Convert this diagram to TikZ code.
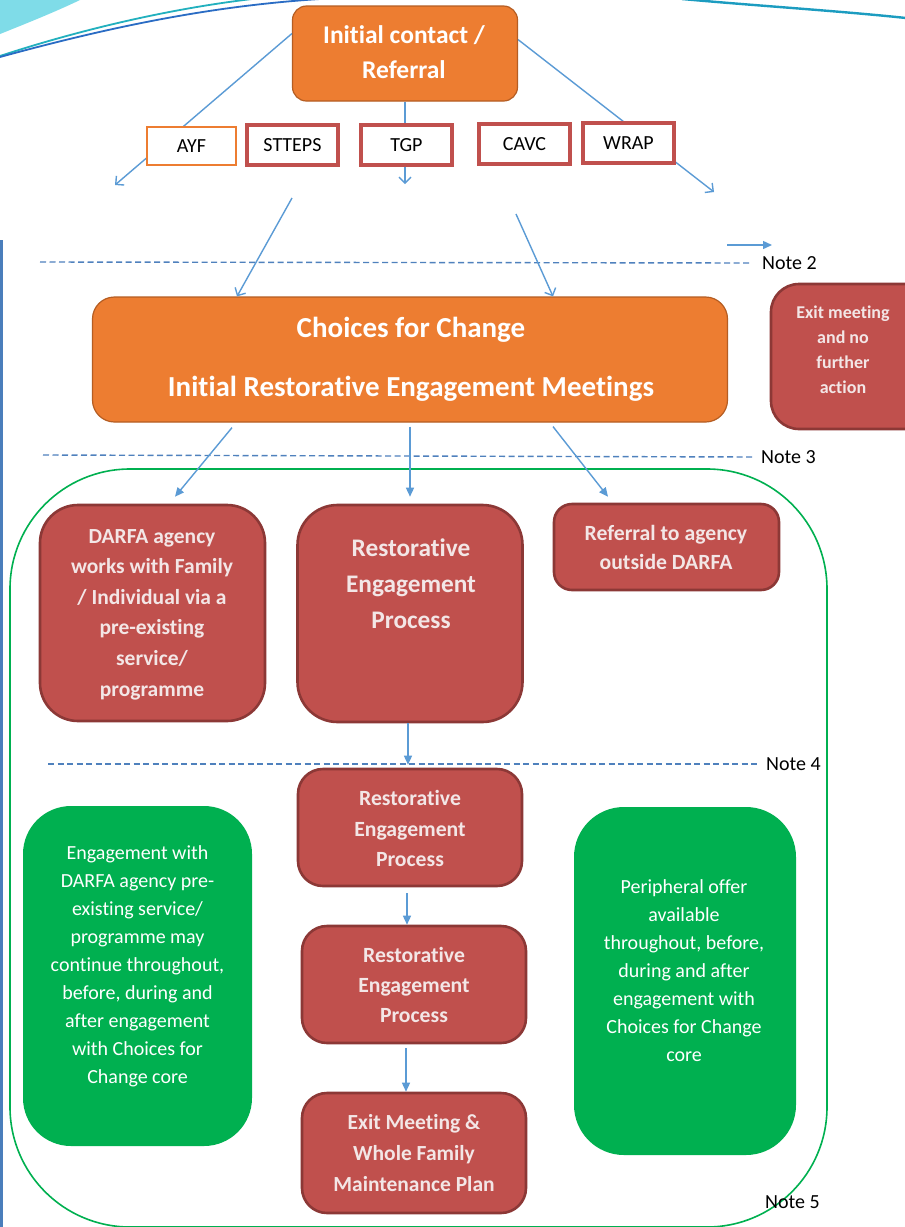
\documentclass[tikz,border=0pt]{standalone}
\usepackage{fontspec}
\setmainfont{Carlito}[Ligatures={NoCommon}]
\usetikzlibrary{arrows.meta,calc}
\definecolor{orfill}{HTML}{ED7D31}
\definecolor{ordraw}{HTML}{B55D22}
\definecolor{rdfill}{HTML}{C0504D}
\definecolor{rddraw}{HTML}{8C3836}
\definecolor{gnfill}{HTML}{00B050}
\definecolor{arblue}{HTML}{5B9BD5}
\definecolor{dashblue}{HTML}{4F81BD}
\definecolor{rdtext}{HTML}{F3E6E6}
\definecolor{swcyan}{HTML}{7FDCE8}
\definecolor{swteal}{HTML}{22B0BE}
\definecolor{swblue}{HTML}{2A6CC4}
\definecolor{swright}{HTML}{1C9CC0}
\definecolor{barblue}{HTML}{4A7EBB}
\tikzset{
  orbox/.style={draw=ordraw, fill=orfill, line width=1.2pt, inner sep=0pt},
  rdbox/.style={draw=rddraw, fill=rdfill, line width=2.6pt, inner sep=0pt},
  gnbox/.style={fill=gnfill, draw=none, inner sep=0pt},
  tagbox/.style={draw=rdfill, fill=white, line width=3.4pt, inner sep=0pt,
    minimum width=91pt, minimum height=40pt, font=\fontsize{20}{24}\selectfont},
  btxt/.style n args={2}{align=center, inner sep=0pt, font={\bfseries\fontsize{#1}{#2}\selectfont}},
  rtxt/.style n args={2}{align=center, inner sep=0pt, font={\fontsize{#1}{#2}\selectfont}},
  note/.style={anchor=west, inner sep=0pt, font=\fontsize{20}{24}\selectfont},
  topar/.style={draw=arblue, line width=1.4pt, -{Straight Barb[length=6pt,width=12pt]}},
  ar/.style={draw=arblue, line width=1.4pt, -{Triangle[length=9pt,width=8pt]}},
  plain/.style={draw=arblue, line width=1.4pt},
  dashline/.style={draw=dashblue, line width=1.4pt, dash pattern=on 6pt off 3.5pt}
}
\begin{document}
\begin{tikzpicture}[x=1pt,y=-1pt]
\useasboundingbox (0,0) rectangle (905,1227);
\fill[white] (0,0) rectangle (905,1227);
% decorative swooshes
\fill[swcyan] (0,0) -- (80,0) .. controls (55,12) and (25,24) .. (0,34) -- cycle;
\draw[swteal, line width=1.8pt] (0,56) .. controls (70,33) and (160,10) .. (252,-1);
\draw[swblue, line width=1.8pt] (0,57) .. controls (110,27) and (210,6) .. (320,-1);
\draw[swright, line width=2.4pt] (682,-1) .. controls (760,6) and (840,11) .. (906,18);
% left bar
\fill[barblue] (0,240) rectangle (3,1227);
% green container
\draw[gnfill, line width=1.6pt, rounded corners=120pt] (10,469) rectangle (827,1227);

% initial contact
\node[orbox, rounded corners=14pt, minimum width=225pt, minimum height=95pt] (ic) at (405,53.5) {};
\node[btxt={25.5}{35}, text=white] (ict) at (404,52.5) {Initial contact /\\Referral};
\coordinate (ayfend) at (115,185);
\coordinate (wrapend) at (714,192);
\draw[topar] (ic.170) -- (ayfend);
\draw[topar] (ic.7) -- (wrapend);

% small boxes
\node[tagbox, draw=orfill, line width=1.6pt, minimum width=89pt, minimum height=38pt] (ayf) at (191.5,146) {AYF};
\node[tagbox] (stteps) at (292.5,145) {STTEPS};
\node[tagbox] (tgp) at (406.5,145) {TGP};
\node[tagbox] (cavc) at (524.5,144) {CAVC};
\node[tagbox] (wrap) at (628.5,143) {WRAP};
\draw[plain] (ic.south) -- (ic.south |- tgp.north);
\coordinate (tgpend) at (405,184);
\draw[topar] (tgp.south -| tgpend) -- (tgpend);

% note 2
\coordinate (d2) at (40,262);
\node[note] (note2) at (762,263) {Note 2};
\draw[dashline] (d2) -- ([xshift=-10pt]note2.west);
\coordinate (n2a) at (727,245);
\coordinate (n2b) at (772,245);
\draw[ar] (n2a) -- (n2b);

% choices for change
\node[orbox, rounded corners=22pt, minimum width=635pt, minimum height=125pt] (cfc) at (410,359.5) {};
\node[btxt={29}{59}, text=white] (cfct) at (411,359.5) {Choices for Change\\Initial Restorative Engagement Meetings};
\coordinate (c1s) at (292,198);
\coordinate (c2s) at (516,214);
\draw[topar] (c1s) -- ([xshift=-173pt]cfc.north);
\draw[topar] (c2s) -- ([xshift=143pt]cfc.north);

% exit meeting right
\node[rdbox, rounded corners=28pt, minimum width=164pt, minimum height=145pt] (exr) at (853,356.5) {};
\node[btxt={18}{25}, text=rdtext] (exrt) at (843,349.5) {Exit meeting\\and no\\further\\action};

% note 3
\coordinate (d3) at (43,455);
\node[note] (note3) at (761,457) {Note 3};
\draw[dashline] (d3) -- ([xshift=-6pt]note3.west);

% three boxes
\node[rdbox, rounded corners=38pt, minimum width=225pt, minimum height=216pt] (darfa) at (152.5,613) {};
\node[btxt={21.5}{30.6}, text=rdtext] (darfat) at (152,614.5) {DARFA agency\\works with Family\\/ Individual via a\\pre-existing\\service/\\programme};
\node[rdbox, rounded corners=40pt, minimum width=225pt, minimum height=217pt] (rep) at (410,613.5) {};
\node[btxt={25.3}{36}, text=rdtext] (rept) at (411,584) {Restorative\\Engagement\\Process};
\node[rdbox, rounded corners=18pt, minimum width=225pt, minimum height=86pt] (ref) at (666.5,547) {};
\node[btxt={21.7}{29}, text=rdtext] (reft) at (666,547.5) {Referral to agency\\outside DARFA};
\draw[ar] ([xshift=-178pt,yshift=-5pt]cfc.south) -- ([xshift=22.5pt,yshift=7pt]darfa.north);
\draw[ar] ([yshift=-4pt]cfc.south) -- ([yshift=7pt]rep.north);
\draw[ar] ([xshift=143pt,yshift=-4pt]cfc.south) -- ([xshift=-58.5pt,yshift=6pt]ref.north);

% note 4
\coordinate (d4) at (48,764);
\node[note] (note4) at (766,764) {Note 4};
\draw[dashline] (d4) -- ([xshift=-8pt]note4.west);

% restorative chain
\node[rdbox, rounded corners=25pt, minimum width=224pt, minimum height=117pt] (re2) at (410,827.5) {};
\node[btxt={21.7}{30.5}, text=rdtext] (re2t) at (410,828.5) {Restorative\\Engagement\\Process};
\node[rdbox, rounded corners=25pt, minimum width=224pt, minimum height=117pt] (re3) at (414,984.5) {};
\node[btxt={21.7}{30}, text=rdtext] (re3t) at (414,985) {Restorative\\Engagement\\Process};
\node[rdbox, rounded corners=25pt, minimum width=224pt, minimum height=120pt] (exm) at (414,1153) {};
\node[btxt={21.5}{31}, text=rdtext] (exmt) at (414,1153) {Exit Meeting \&\\Whole Family\\Maintenance Plan};
\draw[ar] ($(rep.south)+(-2,0)$) -- ($(re2.north)+(-2,-3)$);
\draw[ar] ($(re2.south)+(-3,6)$) coordinate (a1) -- (a1 |- re3.north);
\draw[ar] ($(re3.south)+(-8,4)$) coordinate (a2) -- (a2 |- exm.north);

% green boxes
\node[gnbox, rounded corners=48pt, minimum width=229pt, minimum height=340pt] (gl) at (137.5,976) {};
\node[rtxt={20}{28}, text=white] (glt) at (137.5,966) {Engagement with\\DARFA agency pre-\\existing service/\\programme may\\continue throughout,\\before, during and\\after engagement\\with Choices for\\Change core};
\node[gnbox, rounded corners=50pt, minimum width=222pt, minimum height=348pt] (gr) at (685,981) {};
\node[rtxt={20}{28}, text=white] (grt) at (684,971) {Peripheral offer\\available\\throughout, before,\\during and after\\engagement with\\Choices for Change\\core};

% note 5
\node[note] (note5) at (765,1202) {Note 5};
\end{tikzpicture}
\end{document}
